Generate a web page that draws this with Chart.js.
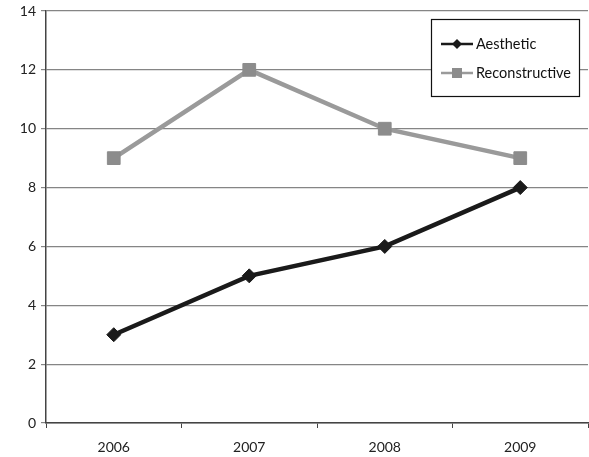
<!DOCTYPE html>
<html>
<head>
<meta charset="utf-8">
<script src="https://cdn.jsdelivr.net/npm/chart.js@4/dist/chart.umd.min.js"></script>
<style>
  html, body { margin: 0; padding: 0; background: #fff; }
  #wrap { width: 589px; height: 457px; }
</style>
</head>
<body>
<div id="wrap"><canvas id="c" width="589" height="457"></canvas></div>
<script>
// Years on the category axis
const years = ['2006', '2007', '2008', '2009'];
// Yearly counts per procedure type
const aesthetic = [3, 5, 6, 8];
const reconstructive = [9, 12, 10, 9];
// Value axis range
const yMin = 0;
const yMax = 14;
const yStep = 2;

const FONT = 'Lato, "Open Sans", sans-serif';

// Boxed legend in the upper-right corner of the plot area
const boxLegend = {
  id: 'boxLegend',
  afterDraw(chart) {
    const ctx = chart.ctx;
    const x0 = 431, y0 = 19, w = 148, h = 77;
    ctx.save();
    ctx.fillStyle = '#fff';
    ctx.fillRect(x0, y0, w, h);
    ctx.strokeStyle = '#111';
    ctx.lineWidth = 1.2;
    ctx.strokeRect(x0 + 0.5, y0 + 0.5, w, h);
    const rows = [y0 + 25, y0 + 54];
    chart.data.datasets.forEach((ds, i) => {
      const y = rows[i];
      const lx1 = x0 + 10, lx2 = x0 + 42, mx = (lx1 + lx2) / 2;
      ctx.strokeStyle = ds.borderColor;
      ctx.lineWidth = 2.5;
      ctx.beginPath();
      ctx.moveTo(lx1, y);
      ctx.lineTo(lx2, y);
      ctx.stroke();
      ctx.fillStyle = ds.pointBackgroundColor;
      ctx.beginPath();
      if (ds.pointStyle === 'rectRot') {
        const r = 5;
        ctx.moveTo(mx, y - r); ctx.lineTo(mx + r, y); ctx.lineTo(mx, y + r); ctx.lineTo(mx - r, y);
        ctx.closePath();
      } else {
        ctx.rect(mx - 5, y - 5, 10, 10);
      }
      ctx.fill();
      ctx.fillStyle = '#111';
      ctx.font = '14.5px ' + FONT;
      ctx.textBaseline = 'middle';
      ctx.textAlign = 'left';
      ctx.fillText(ds.label, lx2 + 3, y);
    });
    ctx.restore();
  }
};

new Chart(document.getElementById('c'), {
  type: 'line',
  data: {
    labels: years,
    datasets: [
      {
        label: 'Aesthetic',
        data: aesthetic,
        borderColor: '#1a1a1a',
        backgroundColor: '#1a1a1a',
        pointBackgroundColor: '#1a1a1a',
        pointBorderColor: '#1a1a1a',
        borderWidth: 4.5,
        pointStyle: 'rectRot',
        pointRadius: 7,
        pointBorderWidth: 1,
        tension: 0
      },
      {
        label: 'Reconstructive',
        data: reconstructive,
        borderColor: '#9a9a9a',
        backgroundColor: '#8c8c8c',
        pointBackgroundColor: '#8c8c8c',
        pointBorderColor: '#8c8c8c',
        borderWidth: 4.5,
        pointStyle: 'rect',
        pointRadius: 9,
        pointBorderWidth: 1,
        tension: 0
      }
    ]
  },
  options: {
    responsive: false,
    animation: false,
    devicePixelRatio: 1,
    layout: { autoPadding: false, padding: { top: 11, right: 1, left: 0, bottom: 0 } },
    plugins: {
      legend: { display: false },
      tooltip: { enabled: false }
    },
    scales: {
      x: {
        offset: true,
        grid: {
          display: true,
          offset: true,
          drawOnChartArea: false,
          drawTicks: true,
          tickLength: 5,
          color: '#444'
        },
        border: { display: true, color: '#444', width: 1.5 },
        ticks: {
          color: '#222',
          font: { family: FONT, size: 14 },
          padding: 11,
          maxRotation: 0
        },
        afterFit(scale) {
          scale.height = 34;
          scale.paddingLeft = 0;
          scale.paddingRight = 0;
        }
      },
      y: {
        min: yMin,
        max: yMax,
        grid: {
          color: '#858585',
          lineWidth: 1.2,
          drawTicks: true,
          tickLength: 5
        },
        border: { display: true, color: '#444', width: 1.5 },
        ticks: {
          stepSize: yStep,
          color: '#222',
          font: { family: FONT, size: 14 },
          padding: 5
        },
        afterFit(scale) {
          scale.width = 46;
          scale.paddingTop = 0;
        }
      }
    }
  },
  plugins: [boxLegend]
});
</script>
</body>
</html>
